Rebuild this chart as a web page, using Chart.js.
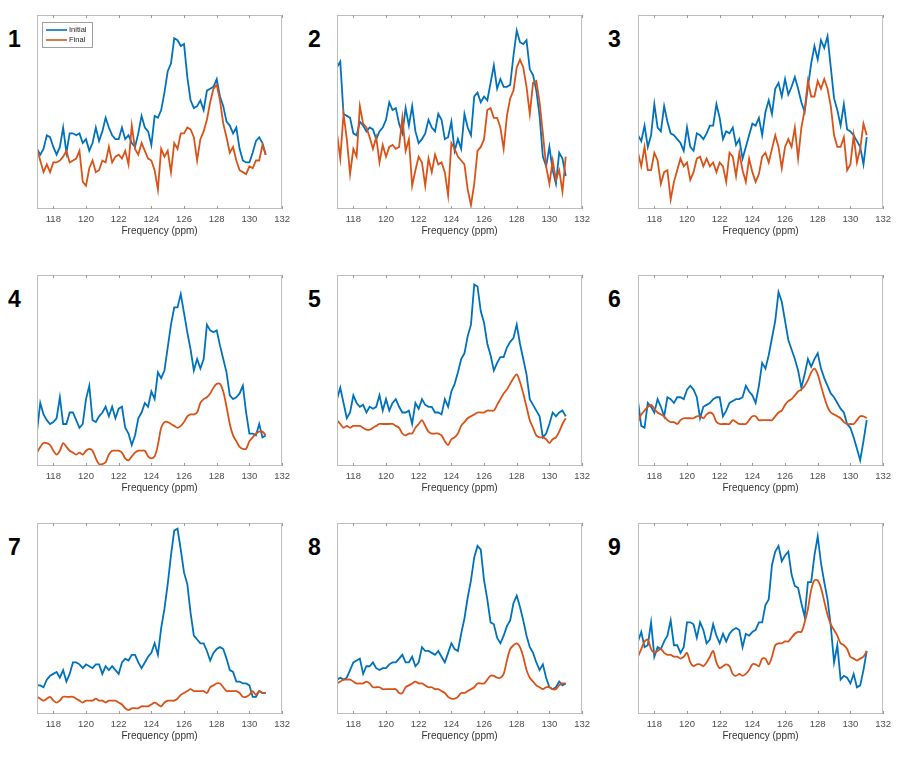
<!DOCTYPE html>
<html>
<head>
<meta charset="utf-8">
<script src="https://cdn.jsdelivr.net/npm/chart.js@4.4.1/dist/chart.umd.min.js"></script>
<style>
body { margin: 0; background: #fff; }
#page { position: relative; width: 910px; height: 758px; overflow: hidden; }
canvas { position: absolute; }
.num { position: absolute; font: bold 23px "Liberation Sans", Arial, sans-serif; line-height: 1; color: #000; }
</style>
</head>
<body>
<div id="page"></div>
<script>
// shared frequency axis (ppm) and tick labels
const freq = [117, 117.2, 117.4, 117.6, 117.8, 118, 118.2, 118.4, 118.6, 118.8, 119, 119.2, 119.4, 119.6, 119.8,
  120, 120.2, 120.4, 120.6, 120.8, 121, 121.2, 121.4, 121.6, 121.8, 122, 122.2, 122.4, 122.6, 122.8,
  123, 123.2, 123.4, 123.6, 123.8, 124, 124.2, 124.4, 124.6, 124.8,
  125, 125.2, 125.4, 125.6, 125.8, 126, 126.2, 126.4, 126.6, 126.8, 127, 127.2, 127.4, 127.6, 127.8,
  128, 128.2, 128.4, 128.6, 128.8, 129, 129.2, 129.4, 129.6, 129.8,
  130, 130.2, 130.4, 130.6, 130.8, 131];
const freqTicks = [118, 120, 122, 124, 126, 128, 130, 132];
const panelNames = ['1', '2', '3', '4', '5', '6', '7', '8', '9'];
const seriesNames = ['Initial', 'Final'];

// intensities (arbitrary units, 0 = bottom of axes, 100 = top)
const p1Initial = [31, 28, 31, 38, 37, 32, 28, 32, 42, 29, 39, 39, 38, 39, 34,
  36, 30, 34, 42, 35, 40, 47, 42, 38, 36, 36, 42, 36, 38, 34, 32, 39, 48, 42, 40, 33, 48, 47, 51, 60,
  71, 75, 88, 87, 84, 85, 68, 56, 52, 53, 56, 51, 61, 62, 63, 67, 58, 53, 45, 43, 39, 42, 31, 25, 24,
  24, 29, 35, 37, 34, 28];
const p1Final = [31, 25, 19, 23, 19, 24, 24, 25, 27, 30, 24, 25, 26, 30, 14,
  12, 21, 25, 19, 20, 25, 24, 32, 24, 27, 28, 26, 30, 23, 43, 31, 28, 34, 30, 26, 25, 20, 10, 31, 27,
  30, 19, 34, 31, 39, 39, 42, 41, 37, 25, 36, 40, 46, 55, 62, 64, 56, 44, 37, 29, 32, 25, 20, 19, 18,
  22, 21, 25, 25, 33, 28];
const p2Initial = [73, 76, 49, 48, 47, 39, 38, 45, 43, 40, 42, 41, 36, 40, 42,
  46, 55, 51, 52, 44, 39, 52, 43, 53, 40, 34, 36, 39, 46, 42, 40, 49, 46, 36, 37, 45, 30, 36, 31, 49,
  42, 38, 58, 60, 55, 58, 56, 65, 74, 62, 67, 63, 63, 64, 79, 92, 86, 85, 87, 72, 69, 61, 48, 27, 22,
  32, 20, 13, 29, 26, 17];
const p2Final = [39, 26, 49, 36, 18, 31, 27, 53, 44, 42, 37, 31, 37, 24, 33,
  27, 32, 33, 31, 32, 47, 30, 36, 12, 20, 27, 24, 12, 26, 19, 28, 23, 24, 19, 7, 34, 31, 27, 25, 23,
  10, 2, 13, 30, 32, 36, 51, 52, 47, 47, 42, 31, 48, 57, 61, 73, 77, 73, 63, 49, 65, 66, 55, 39, 22,
  13, 25, 15, 20, 9, 27];
const p3Initial = [38, 35, 43, 32, 38, 54, 42, 40, 53, 45, 39, 38, 36, 34, 30,
  42, 32, 30, 39, 38, 36, 39, 43, 43, 54, 47, 36, 40, 39, 42, 33, 36, 26, 32, 38, 44, 43, 47, 38, 50,
  56, 49, 62, 65, 58, 67, 59, 63, 68, 62, 55, 50, 63, 75, 84, 77, 87, 83, 89, 73, 57, 51, 43, 54, 41,
  40, 38, 35, 32, 23, 37];
const p3Final = [29, 22, 32, 20, 20, 29, 25, 13, 19, 20, 5, 14, 20, 26, 22,
  24, 15, 19, 26, 27, 22, 26, 22, 24, 19, 24, 22, 14, 29, 27, 17, 29, 20, 14, 26, 19, 14, 18, 27, 29,
  24, 31, 38, 32, 21, 32, 36, 32, 42, 26, 42, 51, 66, 58, 58, 66, 62, 67, 62, 53, 38, 32, 32, 37, 20,
  23, 38, 24, 31, 44, 38];
const p4Initial = [18, 33, 27, 24, 22, 23, 25, 36, 22, 22, 28, 28, 24, 20, 22,
  35, 42, 24, 23, 26, 28, 31, 26, 31, 25, 30, 31, 20, 17, 11, 16, 25, 28, 33, 31, 39, 35, 49, 46, 50,
  62, 74, 83, 83, 90, 80, 70, 61, 50, 56, 51, 56, 74, 71, 70, 71, 63, 56, 49, 37, 35, 36, 38, 42, 28,
  17, 17, 16, 22, 15, 16];
const p4Final = [7, 10, 12, 12, 11, 8, 6, 8, 12, 10, 8, 7, 6, 7, 6,
  8, 9, 8, 4, 1, 1, 2, 6, 8, 8, 8, 7, 4, 3, 5, 7, 8, 8, 8, 5, 4, 5, 11, 20, 23,
  23, 22, 21, 20, 21, 23, 26, 27, 27, 28, 33, 35, 36, 38, 41, 43, 43, 39, 31, 22, 16, 13, 10, 9, 9,
  13, 15, 17, 18, 18, 16];
const p5Initial = [35, 41, 33, 25, 28, 37, 33, 31, 32, 28, 31, 30, 31, 37, 29,
  35, 29, 33, 35, 31, 28, 28, 29, 22, 33, 30, 35, 32, 31, 31, 28, 28, 27, 35, 31, 39, 43, 49, 56, 59,
  68, 74, 95, 94, 81, 75, 64, 58, 50, 54, 57, 57, 62, 65, 67, 74, 64, 56, 48, 35, 32, 29, 26, 15, 17,
  22, 28, 26, 28, 29, 26];
const p5Final = [24, 22, 20, 21, 20, 21, 21, 21, 20, 19, 19, 20, 21, 22, 22,
  22, 22, 22, 21, 20, 17, 16, 17, 17, 20, 22, 24, 21, 18, 17, 17, 17, 16, 13, 11, 14, 15, 17, 21, 23,
  25, 26, 27, 28, 28, 28, 29, 29, 29, 32, 35, 38, 40, 43, 46, 48, 44, 38, 31, 24, 20, 16, 15, 15, 14,
  12, 14, 15, 18, 22, 25];
const p6Initial = [34, 21, 20, 33, 31, 28, 35, 31, 26, 36, 35, 33, 36, 36, 35,
  40, 42, 40, 36, 25, 31, 32, 33, 35, 36, 36, 26, 29, 33, 34, 35, 35, 36, 42, 39, 37, 33, 42, 54, 51,
  58, 67, 76, 91, 86, 76, 66, 61, 56, 50, 41, 48, 56, 52, 56, 59, 51, 46, 42, 38, 36, 33, 30, 28, 22,
  20, 15, 9, 3, 13, 24];
const p6Final = [23, 27, 29, 31, 32, 30, 28, 27, 26, 24, 23, 23, 22, 24, 25,
  25, 25, 25, 26, 26, 25, 27, 28, 27, 23, 22, 22, 22, 22, 24, 23, 22, 22, 22, 24, 26, 26, 24, 24, 24,
  24, 24, 26, 28, 29, 32, 34, 35, 37, 39, 40, 42, 45, 49, 51, 48, 42, 36, 31, 28, 27, 26, 25, 23, 22,
  22, 22, 24, 26, 26, 25];
const p7Initial = [15, 15, 14, 18, 20, 21, 22, 19, 23, 17, 21, 27, 27, 26, 24,
  26, 25, 24, 26, 26, 21, 25, 23, 25, 23, 21, 27, 29, 28, 31, 31, 27, 24, 27, 30, 32, 37, 31, 45, 55,
  68, 83, 96, 97, 86, 74, 68, 53, 41, 39, 37, 37, 33, 28, 32, 34, 35, 34, 29, 23, 22, 17, 17, 16, 16,
  15, 9, 9, 12, 11, 11];
const p7Final = [9, 8, 7, 8, 9, 7, 6, 7, 9, 9, 9, 9, 8, 7, 6,
  7, 7, 7, 8, 7, 7, 6, 7, 7, 7, 6, 5, 3, 2, 3, 3, 3, 4, 4, 4, 5, 6, 5, 4, 6,
  7, 7, 7, 8, 10, 11, 12, 13, 12, 12, 12, 12, 11, 14, 15, 16, 16, 14, 12, 12, 12, 12, 11, 9, 9,
  10, 12, 10, 12, 11, 11];
const p8Initial = [18, 19, 18, 19, 23, 27, 28, 29, 21, 25, 25, 27, 24, 23, 24,
  24, 26, 27, 27, 29, 31, 27, 27, 30, 25, 27, 35, 33, 33, 32, 31, 33, 30, 27, 32, 37, 34, 33, 42, 50,
  61, 70, 82, 88, 86, 70, 60, 48, 47, 40, 37, 41, 46, 49, 58, 62, 56, 49, 41, 35, 32, 27, 23, 26, 19,
  14, 13, 14, 17, 15, 16];
const p8Final = [16, 17, 18, 18, 18, 17, 16, 16, 16, 17, 16, 14, 14, 14, 13,
  13, 13, 13, 13, 11, 11, 14, 15, 16, 17, 16, 16, 15, 14, 14, 13, 13, 12, 11, 9, 8, 8, 9, 11, 11,
  12, 13, 14, 16, 16, 16, 18, 20, 20, 19, 19, 21, 28, 34, 36, 37, 35, 30, 23, 19, 17, 15, 14, 13, 14,
  14, 13, 13, 15, 16, 16];
const p9Initial = [38, 43, 35, 36, 48, 30, 35, 34, 38, 41, 49, 36, 36, 32, 35,
  48, 48, 47, 40, 48, 44, 37, 39, 47, 41, 37, 42, 38, 42, 44, 45, 44, 35, 42, 41, 43, 44, 48, 48, 57,
  60, 78, 85, 88, 80, 83, 85, 73, 67, 66, 58, 51, 69, 69, 83, 93, 79, 69, 60, 46, 27, 36, 18, 20, 19,
  16, 21, 14, 15, 23, 33];
const p9Final = [30, 34, 38, 39, 34, 32, 33, 34, 32, 31, 31, 30, 30, 29, 30,
  32, 27, 25, 26, 26, 25, 27, 30, 33, 27, 24, 25, 26, 25, 21, 20, 21, 20, 21, 23, 26, 26, 25, 29, 29,
  26, 30, 36, 37, 37, 38, 38, 40, 42, 43, 43, 48, 55, 65, 70, 70, 66, 59, 52, 47, 44, 41, 37, 36, 34,
  30, 29, 28, 29, 30, 33];

const BLUE = '#0072BD';
const ORANGE = '#D95319';
const FONT = '"Liberation Sans", Arial, sans-serif';

const initials = [p1Initial, p2Initial, p3Initial, p4Initial, p5Initial, p6Initial, p7Initial, p8Initial, p9Initial];
const finals = [p1Final, p2Final, p3Final, p4Final, p5Final, p6Final, p7Final, p8Final, p9Final];

// plot box of each panel on the page
const colLeft = [37, 337, 638];
const rowTop = [15, 275, 523];
const rowHeight = [194, 191, 191];
const plotWidth = 246;

function toXY(ys) {
    return freq.map((x, i) => ({ x: x, y: ys[i] }));
}

// matlab-like box, inward ticks and the legend of panel 1
const framePlugin = {
    id: 'frame',
    afterDatasetsDraw(chart, args, opts) {
        const { ctx, chartArea: a, scales: { x } } = chart;
        ctx.save();
        ctx.strokeStyle = '#bdbdbd';
        ctx.lineWidth = 1;
        ctx.strokeRect(a.left + 0.5, a.top + 0.5, a.width - 1, a.height - 1);
        ctx.strokeStyle = '#9a9a9a';
        freqTicks.forEach(v => {
            const px = Math.round(x.getPixelForValue(v)) + 0.5;
            ctx.beginPath();
            ctx.moveTo(px, a.bottom); ctx.lineTo(px, a.bottom - 3);
            ctx.moveTo(px, a.top); ctx.lineTo(px, a.top + 3);
            ctx.stroke();
        });
        if (opts.legend) {
            const lx = a.left + 5, ly = a.top + 7;
            ctx.fillStyle = '#fff';
            ctx.fillRect(lx, ly, 50, 25);
            ctx.strokeStyle = '#a0a0a0';
            ctx.strokeRect(lx + 0.5, ly + 0.5, 50, 25);
            ctx.font = '7.5px ' + FONT;
            ctx.textBaseline = 'middle';
            chart.data.datasets.forEach((ds, i) => {
                const yy = ly + 8 + i * 10;
                ctx.strokeStyle = ds.borderColor;
                ctx.lineWidth = 1.6;
                ctx.beginPath();
                ctx.moveTo(lx + 4, yy); ctx.lineTo(lx + 25, yy);
                ctx.stroke();
                ctx.fillStyle = '#262626';
                ctx.fillText(ds.label, lx + 27, yy);
            });
        }
        ctx.restore();
    }
};

const page = document.getElementById('page');

panelNames.forEach((name, k) => {
    const col = k % 3, row = Math.floor(k / 3);
    const L = colLeft[col], T = rowTop[row], H = rowHeight[row];

    const num = document.createElement('div');
    num.className = 'num';
    num.textContent = name;
    num.style.left = (colLeft[col] - 29 + (col === 2 ? -1 : 0)) + 'px';
    num.style.top = (T + 13) + 'px';
    page.appendChild(num);

    const canvas = document.createElement('canvas');
    canvas.width = plotWidth + 24;
    canvas.height = H + 5 + 32;
    canvas.style.left = (L - 12) + 'px';
    canvas.style.top = (T - 5) + 'px';
    page.appendChild(canvas);

    new Chart(canvas, {
        type: 'line',
        data: {
            datasets: [
                {
                    label: seriesNames[0],
                    data: toXY(initials[k]),
                    borderColor: BLUE,
                    borderWidth: 1.8,
                    pointRadius: 0,
                    tension: 0,
                    order: 1
                },
                {
                    label: seriesNames[1],
                    data: toXY(finals[k]),
                    borderColor: ORANGE,
                    borderWidth: 1.8,
                    pointRadius: 0,
                    tension: k >= 3 ? 0.3 : 0,
                    order: 0
                }
            ]
        },
        options: {
            responsive: false,
            animation: false,
            layout: { padding: { left: 12, right: 12, top: 5, bottom: 0 } },
            plugins: {
                legend: { display: false },
                tooltip: { enabled: false },
                frame: { legend: k === 0 }
            },
            scales: {
                x: {
                    type: 'linear',
                    min: 117,
                    max: 132,
                    afterBuildTicks: s => { s.ticks = freqTicks.map(v => ({ value: v })); },
                    afterFit: s => { s.height = 32; },
                    grid: { display: false, drawTicks: false },
                    border: { display: false },
                    ticks: {
                        color: '#4d4d4d',
                        font: { family: FONT, size: 9.5 },
                        padding: 5,
                        maxRotation: 0,
                        autoSkip: false
                    },
                    title: {
                        display: true,
                        text: 'Frequency (ppm)',
                        color: '#333',
                        font: { family: FONT, size: 10 },
                        padding: { top: 0, bottom: 4 }
                    }
                },
                y: { display: false, min: 0, max: 100 }
            }
        },
        plugins: [framePlugin]
    });
});
</script>
</body>
</html>
